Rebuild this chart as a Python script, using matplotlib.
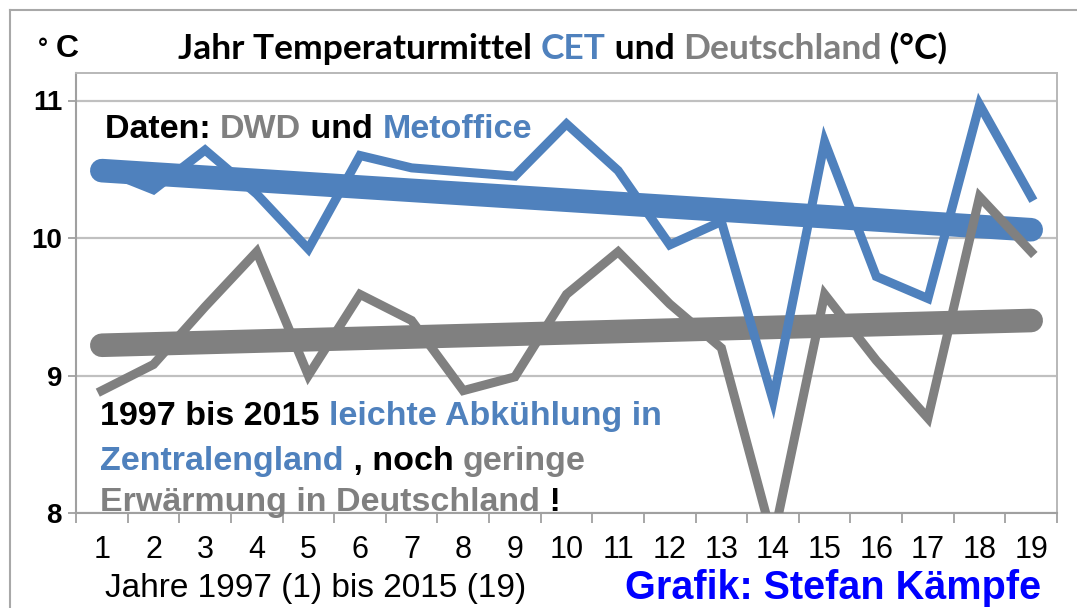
import matplotlib
matplotlib.use('Agg')
import matplotlib.pyplot as plt
from matplotlib import font_manager
from matplotlib.lines import Line2D
from matplotlib.ticker import FixedLocator

years = list(range(1, 20))
cet = [10.50, 10.35, 10.64, 10.32, 9.92, 10.60, 10.51, 10.48, 10.45, 10.83,
       10.49, 9.95, 10.12, 8.82, 10.70, 9.72, 9.56, 10.97, 10.30]
de = [8.89, 9.08, 9.50, 9.90, 9.00, 9.59, 9.40, 8.89, 8.99, 9.59,
      9.90, 9.52, 9.20, 7.80, 9.59, 9.11, 8.69, 10.30, 9.90]
trend_x = [1, 19]
cet_trend = [10.49, 10.06]
de_trend = [9.22, 9.40]

BLUE = '#4F81BD'
GRAY = '#808080'
W, H = 1077, 608

names = {f.name for f in font_manager.fontManager.ttflist}
narrow = 'Liberation Sans Narrow' if 'Liberation Sans Narrow' in names else 'DejaVu Sans Condensed'
if narrow not in names:
    narrow = 'Lato'

fig = plt.figure(figsize=(W / 100, H / 100), dpi=100)
ax = fig.add_axes([76 / W, 1 - 513 / H, (1057 - 76) / W, (513 - 73) / H])

# outer chart border
fig.add_artist(Line2D([10 / W, 10 / W], [0, 1 - 10 / H], color='#A8A8A8', lw=1.5))
fig.add_artist(Line2D([10 / W, 1], [1 - 10 / H, 1 - 10 / H], color='#A8A8A8', lw=1.5))

ax.plot(trend_x, cet_trend, color=BLUE, lw=17, solid_capstyle='round', zorder=3)
ax.plot(trend_x, de_trend, color=GRAY, lw=17, solid_capstyle='round', zorder=3)
ax.plot(years, cet, color=BLUE, lw=6.5, solid_joinstyle='miter', zorder=4)
ax.plot(years, de, color=GRAY, lw=6.5, solid_joinstyle='miter', zorder=4)

ax.set_xlim(0.5, 19.5)
ax.set_ylim(8, 11.2)
ax.set_yticks([8, 9, 10, 11])
ax.set_yticklabels(['8', '9', '10', '11'], fontsize=20, fontweight='bold',
                   family='Liberation Sans')
ax.yaxis.grid(True, color='#C0C0C0', lw=1.6)
ax.set_axisbelow(True)
ax.tick_params(axis='y', length=6, width=1.3, color='#A0A0A0', pad=4)

ax.set_xticks(years)
ax.set_xticklabels([str(y) for y in years], fontsize=22, family='Liberation Sans')
ax.xaxis.set_minor_locator(FixedLocator([i + 0.5 for i in range(0, 20)]))
ax.tick_params(axis='x', which='major', length=0, pad=16)
ax.tick_params(axis='x', which='minor', length=7, width=1.3, color='#A0A0A0')

for s in ['left', 'bottom']:
    ax.spines[s].set_color('#A0A0A0')
    ax.spines[s].set_linewidth(1.5)
for s in ['top', 'right']:
    ax.spines[s].set_color('#B8B8B8')
    ax.spines[s].set_linewidth(1.4)


def color_text(x, y, parts, **kw):
    # pieces of differently coloured text placed one after the other
    t = ax.annotate(parts[0][0], xy=(x, H - y), xycoords='figure pixels',
                    color=parts[0][1], va='bottom', annotation_clip=False, **kw)
    for s, c in parts[1:]:
        t = ax.annotate(s, xy=(1, 0), xycoords=t, color=c, va='bottom',
                        annotation_clip=False, **kw)
    return t


title_font = dict(fontsize=25.5, fontweight='bold', family=[narrow, 'DejaVu Sans'])
color_text(178, 65, [('Jahr Temperaturmittel ', 'black'), ('CET', BLUE),
                     (' und ', 'black'), ('Deutschland', GRAY), (' (°C)', 'black')],
           **title_font)
fig.text(38 / W, 1 - 56 / H, '°', fontsize=18, fontweight='bold',
         family='Liberation Sans', va='baseline')
fig.text(56 / W, 1 - 57 / H, 'C', fontsize=23, fontweight='bold',
         family='Liberation Sans', va='baseline')

bold = dict(fontsize=24.5, fontweight='bold', family='Liberation Sans')
color_text(105, 145, [('Daten: ', 'black'), ('DWD', GRAY), (' und ', 'black'),
                      ('Metoffice', BLUE)], **bold)
color_text(100, 432, [('1997 bis 2015 ', 'black'), ('leichte Abkühlung in', BLUE)], **bold)
color_text(100, 477, [('Zentralengland', BLUE), (' , noch ', 'black'),
                      ('geringe', GRAY)], **bold)
color_text(100, 518, [('Erwärmung in Deutschland', GRAY), (' !', 'black')], **bold)

fig.text(105 / W, 1 - 597 / H, 'Jahre 1997 (1) bis 2015 (19)', fontsize=24,
         family='Liberation Sans', va='baseline')
fig.text(625 / W, 1 - 599 / H, 'Grafik: Stefan Kämpfe', fontsize=28.5,
         fontweight='bold', family='Liberation Sans', color='#0000FF', va='baseline')

fig.savefig('out.png', dpi=100)
